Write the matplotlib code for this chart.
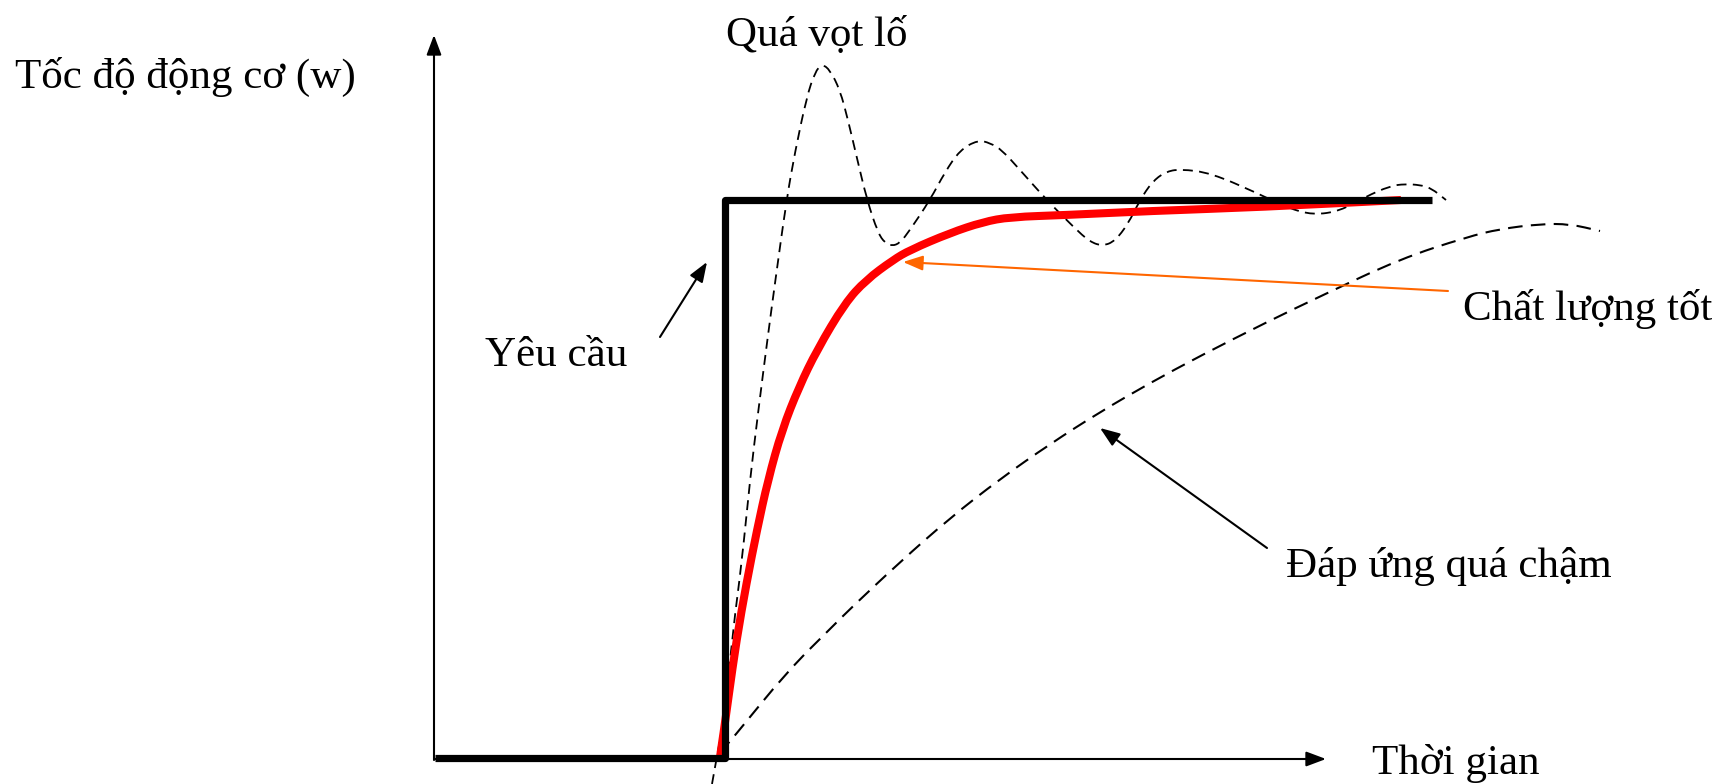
import matplotlib
matplotlib.use('Agg')
import matplotlib.pyplot as plt
from matplotlib.path import Path
from matplotlib.patches import PathPatch

plt.rcParams['font.family'] = ['Liberation Serif', 'DejaVu Serif']

# toạ độ (pixel, gốc ở góc trên trái)
step_x = [435, 725, 725, 1432]
step_y = [758, 758, 200, 200]

good_x = [720, 724, 728.5, 736.5, 746.5, 757, 768, 782, 799, 817, 845, 866, 893,
          910, 950, 983, 1010, 1067, 1150, 1262, 1401]
good_y = [757, 730, 697, 640, 583, 530, 480, 430, 387, 350, 303, 280, 260,
          250, 233, 222, 217, 215, 211, 207, 200]

over_x = [712, 715, 725, 733, 741.7, 750, 758, 768, 775, 786.5, 795, 806.7, 815, 822,
          830, 840, 848, 856.7, 867, 878, 885, 892, 900, 910, 930, 945, 960, 978, 990,
          1002, 1020, 1046.7, 1073.5, 1090, 1103, 1115, 1128, 1140, 1152, 1165, 1180,
          1211, 1257, 1288, 1313, 1340, 1365, 1390, 1405, 1420, 1431, 1446]
over_y = [784, 767, 713, 630, 563, 480, 413, 335, 283, 200, 152, 97, 72, 64,
          70, 90, 120, 157, 200, 233, 243, 246, 243, 230, 200, 172, 150, 140, 143,
          150, 170, 200, 227, 242, 246, 241, 224, 200, 182, 172, 169,
          173, 193, 208, 215, 211, 197, 186, 184, 185, 188, 200]

slow_x = [720, 733, 786.7, 833, 850, 900, 950, 1000, 1050, 1100, 1150, 1200, 1267,
          1323, 1400, 1467, 1500, 1540, 1570, 1600]
slow_y = [753, 738, 672, 626, 609, 562, 518, 479, 444, 412, 383, 356, 322,
          295, 259, 237, 229, 224, 224, 231]

# (chữ, x, y đường chân chữ)
labels = [
    ("Tốc độ động cơ (w)", 15, 88),
    ("Quá vọt lố", 726, 46),
    ("Yêu cầu", 485, 366),
    ("Chất lượng tốt", 1463, 320),
    ("Đáp ứng quá chậm", 1286, 577),
    ("Thời gian", 1372, 774),
]

# (đuôi, mũi, màu)
pointers = [
    ((434, 760), (434, 35), 'black'),
    ((434, 759), (1326, 759), 'black'),
    ((660, 337), (707, 262), 'black'),
    ((1267, 548), (1100, 428), 'black'),
    ((1448, 291), (903, 262), '#ff6600'),
]


def smooth_curve(ax, xs, ys, **kw):
    """Vẽ đường cong trơn qua các điểm (bezier bậc 2 qua trung điểm)."""
    pts = list(zip(xs, ys))
    verts = [pts[0]]
    codes = [Path.MOVETO]
    for i in range(1, len(pts) - 1):
        mid = ((pts[i][0] + pts[i + 1][0]) / 2, (pts[i][1] + pts[i + 1][1]) / 2)
        verts += [pts[i], mid]
        codes += [Path.CURVE3, Path.CURVE3]
    verts.append(pts[-1])
    codes.append(Path.LINETO)
    patch = PathPatch(Path(verts, codes), fill=False, **kw)
    ax.add_patch(patch)
    return patch


fig = plt.figure(figsize=(17.18, 7.84), dpi=100)
ax = fig.add_axes([0, 0, 1, 1])
ax.set_xlim(0, 1718)
ax.set_ylim(784, 0)
ax.axis('off')

for (x0, y0), (x1, y1), col in pointers:
    ax.annotate('', xy=(x1, y1), xytext=(x0, y0),
                arrowprops=dict(arrowstyle='-|>,head_length=1.2,head_width=0.45',
                                mutation_scale=10, lw=1.5, color=col,
                                shrinkA=0, shrinkB=0))

smooth_curve(ax, slow_x, slow_y, edgecolor='black', lw=1.5, ls=(0, (7, 4)))
smooth_curve(ax, over_x, over_y, edgecolor='black', lw=1.3, ls=(0, (5.5, 3.5)))
ax.plot(step_x, step_y, color='black', lw=5.2, solid_capstyle='butt')
smooth_curve(ax, good_x, good_y, edgecolor='#ff0000', lw=5.8, capstyle='butt')

for txt, x, y in labels:
    ax.text(x, y, txt, fontsize=31, ha='left', va='baseline', color='black')

fig.savefig('out.png', dpi=100)
